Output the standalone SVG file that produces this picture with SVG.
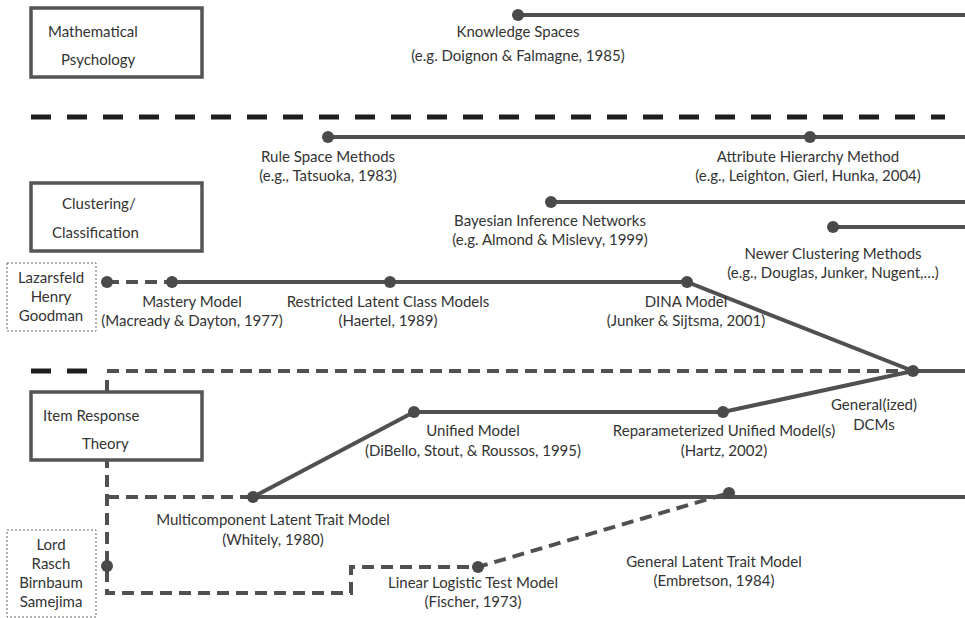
<svg xmlns="http://www.w3.org/2000/svg" width="965" height="618" viewBox="0 0 965 618">
  <style>
    text { font-family: Lato, "Liberation Sans", sans-serif; font-size: 15px; fill: #333; }
    .c { text-anchor: middle; }
    .box { fill: #fff; stroke: #555; stroke-width: 3.5; }
    .dbox { fill: #fff; stroke: #666; stroke-width: 1; stroke-dasharray: 2 2; }
    .ln { stroke: #505050; stroke-width: 4; fill: none; }
    .dl { stroke: #505050; stroke-width: 4; fill: none; stroke-dasharray: 12 7; }
    .sep { stroke: #1e1e1e; stroke-width: 5; fill: none; stroke-dasharray: 20 16; }
    .dot { fill: #4a4a4a; }
  </style>

  <!-- separators between disciplines -->
  <g id="separators">
    <line class="sep" x1="31" y1="117" x2="945" y2="117"/>
    <line class="sep" x1="31" y1="371" x2="92" y2="371"/>
  </g>

  <!-- connectors -->
  <g id="connectors">
    <line class="ln" x1="518" y1="15" x2="965" y2="15"/>
    <line class="ln" x1="328" y1="137" x2="965" y2="137"/>
    <line class="ln" x1="551" y1="202" x2="965" y2="202"/>
    <line class="ln" x1="833" y1="227" x2="965" y2="227"/>
    <line class="dl" x1="107" y1="282" x2="172" y2="282"/>
    <polyline class="ln" points="172,282 687,282 913,371 965,371"/>
    <path class="dl" d="M107,371 H913"/>
    <path class="dl" d="M107,380 V593 H351 V567 H478 L729,493"/>
    <path class="dl" d="M107,497 H253"/>
    <line class="ln" x1="253" y1="497" x2="965" y2="497"/>
    <polyline class="ln" points="253,497 414,412 723,412 913,371"/>
  </g>

  <!-- discipline boxes -->
  <g id="math-psych">
    <rect class="box" x="31" y="8" width="171" height="69"/>
    <text x="48" y="37">Mathematical</text>
    <text x="61" y="65">Psychology</text>
  </g>
  <g id="clustering">
    <rect class="box" x="31" y="183" width="171" height="68"/>
    <text x="62" y="209">Clustering/</text>
    <text x="52" y="238">Classification</text>
  </g>
  <g id="irt">
    <rect class="box" x="31" y="392" width="171" height="68"/>
    <text x="43" y="421">Item Response</text>
    <text x="82" y="449">Theory</text>
  </g>
  <g id="lazarsfeld">
    <rect class="dbox" x="7" y="263" width="89" height="68"/>
    <text class="c" x="51" y="283">Lazarsfeld</text>
    <text class="c" x="51" y="302">Henry</text>
    <text class="c" x="51" y="321">Goodman</text>
  </g>
  <g id="lord">
    <rect class="dbox" x="7" y="530" width="89" height="87"/>
    <text class="c" x="51" y="550">Lord</text>
    <text class="c" x="51" y="569">Rasch</text>
    <text class="c" x="51" y="588">Birnbaum</text>
    <text class="c" x="51" y="607">Samejima</text>
  </g>

  <!-- model nodes -->
  <g id="knowledge-spaces">
    <circle class="dot" cx="518" cy="15" r="6"/>
    <text class="c" x="518" y="37">Knowledge Spaces</text>
    <text class="c" x="518" y="61">(e.g. Doignon &amp; Falmagne, 1985)</text>
  </g>
  <g id="rule-space">
    <circle class="dot" cx="328" cy="137" r="6"/>
    <text class="c" x="328" y="162">Rule Space Methods</text>
    <text class="c" x="328" y="181">(e.g., Tatsuoka, 1983)</text>
  </g>
  <g id="attribute-hierarchy">
    <circle class="dot" cx="810" cy="137" r="6"/>
    <text class="c" x="808" y="162">Attribute Hierarchy Method</text>
    <text class="c" x="808" y="181">(e.g., Leighton, Gierl, Hunka, 2004)</text>
  </g>
  <g id="bayesian">
    <circle class="dot" cx="551" cy="202" r="6"/>
    <text class="c" x="550" y="226">Bayesian Inference Networks</text>
    <text class="c" x="550" y="245">(e.g. Almond &amp; Mislevy, 1999)</text>
  </g>
  <g id="newer-clustering">
    <circle class="dot" cx="833" cy="227" r="6"/>
    <text class="c" x="833" y="259">Newer Clustering Methods</text>
    <text class="c" x="833" y="278">(e.g., Douglas, Junker, Nugent,…)</text>
  </g>
  <g id="latent-class-origin">
    <circle class="dot" cx="107" cy="282" r="6"/>
  </g>
  <g id="mastery">
    <circle class="dot" cx="172" cy="282" r="6"/>
    <text class="c" x="192" y="307">Mastery Model</text>
    <text class="c" x="192" y="326">(Macready &amp; Dayton, 1977)</text>
  </g>
  <g id="restricted-lcm">
    <circle class="dot" cx="390" cy="282" r="6"/>
    <text class="c" x="388" y="307">Restricted Latent Class Models</text>
    <text class="c" x="388" y="326">(Haertel, 1989)</text>
  </g>
  <g id="dina">
    <circle class="dot" cx="687" cy="282" r="6"/>
    <text class="c" x="686" y="307">DINA Model</text>
    <text class="c" x="686" y="326">(Junker &amp; Sijtsma, 2001)</text>
  </g>
  <g id="gdcm">
    <circle class="dot" cx="913" cy="371" r="6"/>
    <text class="c" x="874" y="410">General(ized)</text>
    <text class="c" x="874" y="430">DCMs</text>
  </g>
  <g id="unified">
    <circle class="dot" cx="414" cy="412" r="6"/>
    <text class="c" x="473" y="436">Unified Model</text>
    <text class="c" x="473" y="456">(DiBello, Stout, &amp; Roussos, 1995)</text>
  </g>
  <g id="rum">
    <circle class="dot" cx="723" cy="412" r="6"/>
    <text class="c" x="724" y="436">Reparameterized Unified Model(s)</text>
    <text class="c" x="724" y="456">(Hartz, 2002)</text>
  </g>
  <g id="mltm">
    <circle class="dot" cx="253" cy="497" r="6"/>
    <text class="c" x="273" y="525">Multicomponent Latent Trait Model</text>
    <text class="c" x="273" y="545">(Whitely, 1980)</text>
  </g>
  <g id="irt-origin">
    <circle class="dot" cx="107" cy="566" r="6"/>
  </g>
  <g id="lltm">
    <circle class="dot" cx="478" cy="567" r="6"/>
    <text class="c" x="473" y="588">Linear Logistic Test Model</text>
    <text class="c" x="473" y="607">(Fischer, 1973)</text>
  </g>
  <g id="gltm">
    <circle class="dot" cx="729" cy="493" r="6"/>
    <text class="c" x="714" y="567">General Latent Trait Model</text>
    <text class="c" x="714" y="586">(Embretson, 1984)</text>
  </g>
</svg>
